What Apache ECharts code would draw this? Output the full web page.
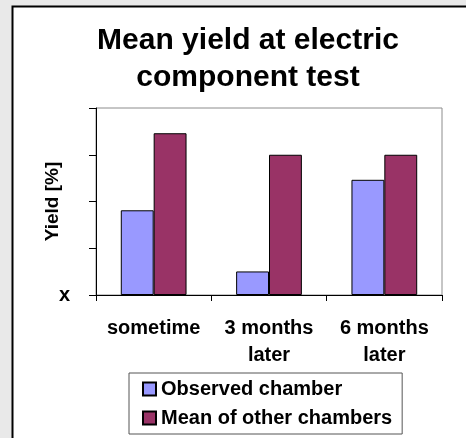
<!DOCTYPE html>
<html>
<head>
<meta charset="utf-8">
<script src="https://cdn.jsdelivr.net/npm/echarts@6/dist/echarts.min.js"></script>
<style>
  html, body { margin: 0; padding: 0; background: #e9e9e9; }
  #chart { width: 466px; height: 438px; }
</style>
</head>
<body>
<div id="chart"></div>
<script>
// Test stages along the x axis
const categories = ['sometime', '3 months\nlater', '6 months\nlater'];
// Mean yield, in percent of the axis span
const observedChamber = [45.3, 12.6, 61.6];
const otherChambers = [86.5, 75, 75];
// Only the origin carries a label
const yTickLabels = ['x', '', '', '', ''];

const FONT = '"Liberation Sans", Arial, sans-serif';
const chart = echarts.init(document.getElementById('chart'));

chart.setOption({
  backgroundColor: '#e9e9e9',
  animation: false,
  textStyle: { fontFamily: FONT },
  graphic: [{
    type: 'rect',
    z: -1,
    shape: { x: 12.5, y: 6.5, width: 470, height: 450 },
    style: { fill: '#ffffff', stroke: '#000000', lineWidth: 2 },
    silent: true
  }],
  title: {
    text: 'Mean yield at electric\ncomponent test',
    left: 243,
    top: 17,
    textAlign: 'center',
    textStyle: {
      fontFamily: FONT,
      fontSize: 30,
      fontWeight: 'bold',
      lineHeight: 37,
      color: '#000'
    }
  },
  grid: {
    left: 96,
    top: 108,
    right: 24,
    bottom: 143,
    show: true,
    borderColor: '#8c8c8c',
    borderWidth: 1,
    backgroundColor: 'transparent'
  },
  legend: {
    orient: 'vertical',
    left: 129,
    top: 373,
    padding: [6, 10, 6, 13],
    itemGap: 9,
    itemWidth: 13,
    itemHeight: 13,
    itemTextGap: 5,
    backgroundColor: '#ffffff',
    borderColor: '#555',
    borderWidth: 1,
    icon: 'rect',
    textStyle: {
      fontFamily: FONT,
      fontSize: 20,
      fontWeight: 'bold',
      color: '#000'
    }
  },
  xAxis: {
    type: 'category',
    data: categories,
    axisLine: { lineStyle: { color: '#000', width: 1 } },
    axisTick: { show: true, length: 6, lineStyle: { color: '#000' } },
    axisLabel: {
      fontFamily: FONT,
      fontSize: 20,
      fontWeight: 'bold',
      lineHeight: 27,
      color: '#000',
      margin: 20,
      interval: 0
    }
  },
  yAxis: {
    type: 'value',
    min: 0,
    max: 100,
    interval: 25,
    name: 'Yield [%]',
    nameLocation: 'middle',
    nameRotate: 90,
    nameGap: 34,
    nameMoveOverlap: false,
    nameTextStyle: {
      fontFamily: FONT,
      fontSize: 19,
      fontWeight: 'bold',
      color: '#000'
    },
    axisLine: { show: true, lineStyle: { color: '#000', width: 1 } },
    axisTick: { show: true, length: 7, lineStyle: { color: '#000' } },
    splitLine: { show: false },
    axisLabel: {
      fontFamily: FONT,
      fontSize: 20,
      fontWeight: 'bold',
      color: '#000',
      margin: 26,
      formatter: function (v) { return yTickLabels[Math.round(v / 25)]; }
    }
  },
  series: [
    {
      name: 'Observed chamber',
      type: 'bar',
      data: observedChamber,
      barGap: '0%',
      barCategoryGap: '43%',
      itemStyle: { color: '#9999ff', borderColor: '#000', borderWidth: 1 }
    },
    {
      name: 'Mean of other chambers',
      type: 'bar',
      data: otherChambers,
      itemStyle: { color: '#993366', borderColor: '#000', borderWidth: 1 }
    }
  ]
});
</script>
</body>
</html>
